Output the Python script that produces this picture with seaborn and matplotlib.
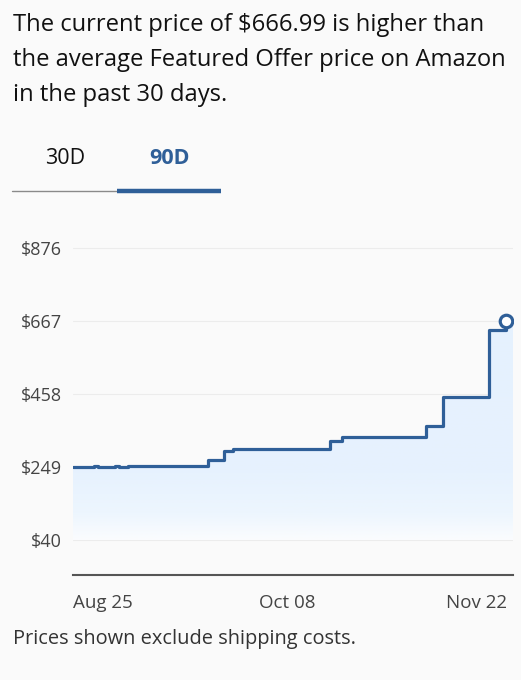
import pandas as pd
import numpy as np
import matplotlib
matplotlib.use("Agg")
import matplotlib.pyplot as plt
import matplotlib.dates as mdates
from matplotlib.colors import LinearSegmentedColormap
import seaborn as sns

# Données (prix en $, changements de prix)
dates = ["2024-08-18", "2024-08-23", "2024-08-24", "2024-08-28", "2024-08-29",
         "2024-08-31", "2024-09-19", "2024-09-23", "2024-09-25", "2024-10-18",
         "2024-10-21", "2024-11-10", "2024-11-14", "2024-11-25", "2024-11-29"]
prices = [249, 253, 249, 253, 249, 252, 269, 295, 300, 324, 336, 367, 449, 641, 667]
yticks = [40, 249, 458, 667, 876]
xticks = ["2024-08-25", "2024-10-08", "2024-11-22"]
tabs = ["30D", "90D"]

df = pd.DataFrame({"date": pd.to_datetime(dates), "price": prices})

bg = "#fafafa"
blue = "#2f5f98"
sns.set_theme(style="white")
plt.rcParams["font.family"] = ["Open Sans", "DejaVu Sans"]

fig = plt.figure(figsize=(5.21, 6.80), dpi=100, facecolor=bg)

# Titre
title_lines = ["The current price of $666.99 is higher than",
               "the average Featured Offer price on Amazon",
               "in the past 30 days."]
for i, txt in enumerate(title_lines):
    fig.text(13 / 521, 1 - (25 + 35 * i) / 680, txt, fontsize=17.1, color="#111111",
             va="center", ha="left")

# Onglets
fig.text(65 / 521, 1 - 158 / 680, tabs[0], fontsize=15.5, color="#111111", ha="center", va="center")
fig.text(169 / 521, 1 - 158 / 680, tabs[1], fontsize=15.5, color=blue, ha="center", va="center",
         fontweight="bold")
fig.add_artist(plt.Line2D([12 / 521, 117 / 521], [1 - 191 / 680] * 2, color="#8a8a8a", lw=1))
fig.add_artist(plt.Line2D([117 / 521, 221 / 521], [1 - 191 / 680] * 2, color=blue, lw=3.2,
                          solid_capstyle="butt"))

# Graphique
ax = fig.add_axes([73 / 521, 1 - 575 / 680, 440 / 521, 345 / 680])
ax.set_facecolor(bg)
x0 = pd.Timestamp("2024-08-18")
x1 = pd.Timestamp("2024-11-30 15:00")

for y in yticks:
    ax.axhline(y, color="#ececec", lw=0.8, zorder=0)

# remplissage dégradé sous la courbe
xs = list(df["date"]) + [x1]
ys = list(df["price"]) + [df["price"].iloc[-1]]
poly = ax.fill_between(xs, ys, yticks[0], step="post", color="none", lw=0)
cmap = LinearSegmentedColormap.from_list(
    "fade", [(0, "#fbfcfe"), (0.12, "#edf6fe"), (0.3, "#e7f2fe"), (1, "#e5f1fe")])
grad = np.linspace(0, 1, 256).reshape(-1, 1)
img = ax.imshow(grad, cmap=cmap, aspect="auto", origin="lower",
                extent=[mdates.date2num(x0), mdates.date2num(x1), yticks[0], df["price"].max()],
                zorder=1)
img.set_clip_path(poly.get_paths()[0], transform=ax.transData)
ax.set_xlim(x0, x1)
ax.set_ylim(-59, 927)

sns.lineplot(data=df, x="date", y="price", drawstyle="steps-post", color=blue, lw=2.3,
             ax=ax, zorder=3)
for line in ax.get_lines():
    line.set_solid_joinstyle("round")
ax.plot(df["date"].iloc[-1], df["price"].iloc[-1], "o", ms=9, mfc="white", mec=blue,
        mew=2.3, zorder=4)

ax.set_yticks(yticks)
ax.set_yticklabels([f"${v}" for v in yticks], fontsize=13, color="#444444")
ax.set_xticks(pd.to_datetime(xticks))
ax.set_xticklabels(["Aug 25", "Oct 08", "Nov 22"], fontsize=13.5, color="#444444")
ax.tick_params(axis="y", length=0, pad=8)
ax.tick_params(axis="x", length=0, pad=14)
ax.set_xlabel("")
ax.set_ylabel("")
sns.despine(ax=ax, left=True, top=True, right=True)
ax.spines["bottom"].set_color("#555555")
ax.spines["bottom"].set_linewidth(1.5)

# Pied
fig.text(13 / 521, 1 - 639 / 680, "Prices shown exclude shipping costs.",
         fontsize=14.4, color="#333333", ha="left", va="center")

fig.savefig("out.png", dpi=100, facecolor=bg)
